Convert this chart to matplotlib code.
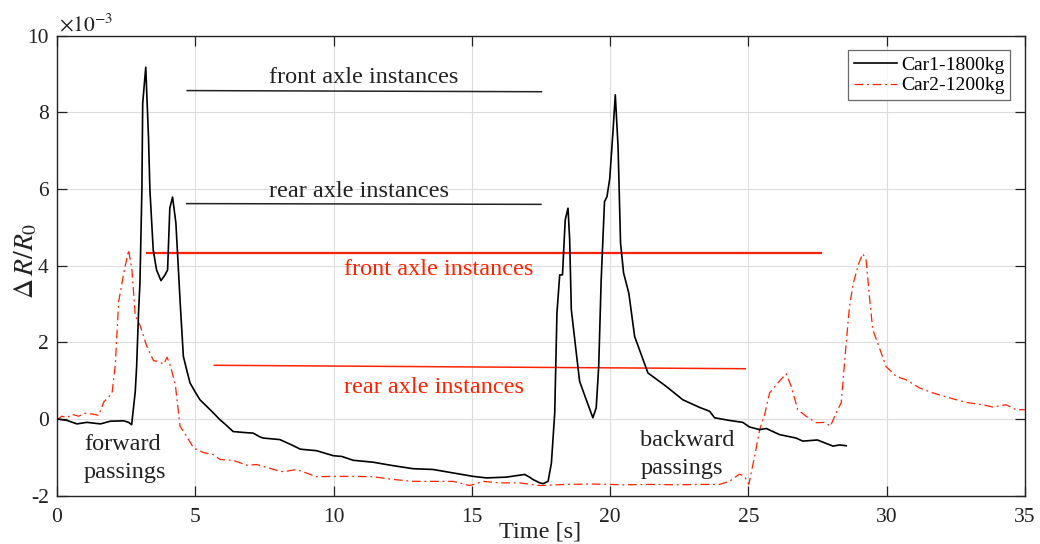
import matplotlib
matplotlib.use("Agg")
import matplotlib.pyplot as plt

plt.rcParams['font.family'] = ['Liberation Serif', 'DejaVu Serif']
plt.rcParams['mathtext.fontset'] = 'stix'

# Car1 (x10^-3)
car1_t = [0, 0.36, 0.72, 1.08, 1.57, 1.93, 2.41, 2.59, 2.70, 2.83, 2.88, 2.95, 3.0, 3.07, 3.10, 3.21,
          3.31, 3.36, 3.48, 3.60, 3.76, 3.90, 4.0, 4.08, 4.18, 4.30, 4.46, 4.57, 4.70, 4.81, 5.0, 5.17,
          5.41, 5.65, 5.89, 6.10, 6.37, 6.85, 7.09, 7.34, 7.46, 8.06, 8.43, 8.66, 8.80, 9.39, 9.99,
          10.3, 10.71, 11.43, 12.15, 12.88, 13.6, 14.32, 15.05, 15.53, 16.25, 16.91, 17.09, 17.21,
          17.46, 17.58, 17.76, 17.88, 18.0, 18.08, 18.18, 18.28, 18.38, 18.48, 18.54, 18.60, 18.78,
          18.90, 19.14, 19.38, 19.50, 19.59, 19.68, 19.80, 19.89, 19.99, 20.11, 20.19, 20.29, 20.38,
          20.49, 20.68, 20.89, 21.37, 22.03, 22.63, 23.24, 23.6, 23.78, 24.32, 24.80, 25.04, 25.41,
          25.65, 26.13, 26.73, 26.97, 27.5, 28.06, 28.3, 28.54]
car1_v = [0, -0.04, -0.13, -0.09, -0.13, -0.06, -0.05, -0.09, -0.15, 0.71, 1.37, 2.79, 3.55, 5.97, 8.24, 9.18,
          7.33, 5.98, 4.41, 3.89, 3.61, 3.75, 3.89, 5.50, 5.79, 5.11, 2.97, 1.63, 1.25, 0.94, 0.70, 0.50,
          0.33, 0.16, -0.02, -0.15, -0.33, -0.36, -0.37, -0.47, -0.50, -0.54, -0.66, -0.74, -0.79, -0.83, -0.96,
          -0.98, -1.08, -1.13, -1.22, -1.30, -1.32, -1.41, -1.50, -1.54, -1.52, -1.45, -1.52, -1.58,
          -1.67, -1.69, -1.63, -1.15, 0.16, 2.76, 3.76, 3.76, 5.20, 5.50, 4.68, 2.85, 1.72,
          0.98, 0.50, 0.03, 0.29, 1.37, 3.63, 5.67, 5.80, 6.28, 7.54, 8.46, 7.11, 4.59,
          3.81, 3.28, 2.15, 1.20, 0.85, 0.50, 0.30, 0.20, 0.03, -0.04, -0.09, -0.21, -0.28,
          -0.25, -0.41, -0.50, -0.58, -0.55, -0.71, -0.68, -0.70]

# Car2 (x10^-3)
car2_t = [0, 0.18, 0.36, 0.54, 0.78, 1.02, 1.33, 1.51, 1.69, 1.99, 2.11, 2.23, 2.41, 2.59, 2.71, 2.83,
          3.01, 3.25, 3.49, 3.66, 3.86, 3.98, 4.10, 4.28, 4.45, 4.70, 4.94, 5.30, 5.65, 5.90, 6.37,
          6.87, 7.22, 7.94, 8.19, 8.66, 9.39, 9.99, 10.71, 11.43, 12.15, 12.88, 13.6, 14.32, 14.93,
          15.41, 16.01, 16.73, 17.46, 18.4, 19.38, 20.5, 21.5, 22.5, 23.24, 23.96, 24.32, 24.68,
          24.86, 25.02, 25.23, 25.41, 25.59, 25.77, 26.07, 26.37, 26.55, 26.79, 27.09, 27.46, 27.76,
          27.97, 28.18, 28.36, 28.54, 28.66, 28.80, 29.0, 29.14, 29.26, 29.38, 29.50, 29.68, 29.98,
          30.35, 30.71, 31.19, 31.67, 32.27, 32.88, 33.48, 33.84, 34.32, 34.68, 35.0]
car2_v = [-0.02, 0.07, 0.03, 0.12, 0.07, 0.15, 0.12, 0.09, 0.44, 0.66, 1.43, 3.06, 3.79, 4.41, 3.88, 2.70,
          2.43, 1.89, 1.52, 1.50, 1.43, 1.61, 1.39, 0.89, -0.19, -0.47, -0.76, -0.88, -0.93, -1.06, -1.08,
          -1.21, -1.19, -1.34, -1.38, -1.32, -1.51, -1.50, -1.50, -1.51, -1.58, -1.63, -1.63, -1.63, -1.74,
          -1.63, -1.67, -1.67, -1.74, -1.71, -1.70, -1.72, -1.71, -1.72, -1.71, -1.71, -1.63, -1.44,
          -1.50, -1.71, -0.97, -0.28, 0.11, 0.68, 0.94, 1.18, 0.85, 0.24, 0.07, -0.10, -0.09,
          -0.19, 0.16, 0.42, 1.98, 2.94, 3.55, 4.07, 4.31, 4.15, 3.20, 2.33, 1.98, 1.37,
          1.11, 1.02, 0.81, 0.68, 0.55, 0.43, 0.37, 0.31, 0.37, 0.24, 0.24]

# annotation bars: ([x_start, x_end], [y_start, y_end])
black_front = ([4.71, 17.52], [8.57, 8.54])
black_rear = ([4.69, 17.50], [5.62, 5.60])
red_front = ([3.26, 27.64], [4.34, 4.34])
red_rear = ([5.69, 24.89], [1.40, 1.31])

labels = ["Car1-1800kg", "Car2-1200kg"]
xticks = [0, 5, 10, 15, 20, 25, 30, 35]
yticks = [-2, 0, 2, 4, 6, 8, 10]

RED = '#FF2200'
DARK = '#222222'

fig = plt.figure(figsize=(10.4, 5.44), dpi=100)
ax = fig.add_axes([0.0548, 0.0891, 0.9306, 0.8451])

ax.plot(car1_t, car1_v, color='black', lw=1.2, label=labels[0], zorder=3)
ax.plot(car2_t, car2_v, color=RED, lw=0.9, ls=(0, (7, 3, 1.5, 3)), label=labels[1], zorder=2)

ax.plot(*black_front, color=DARK, lw=1.1)
ax.plot(*black_rear, color=DARK, lw=1.1)
ax.plot(*red_front, color=RED, lw=1.6)
ax.plot(*red_rear, color=RED, lw=1.1)

fs_txt = 17.5
ax.text(11.09, 8.78, "front axle instances", ha='center', va='baseline', fontsize=fs_txt, color=DARK)
ax.text(10.92, 5.78, "rear axle instances", ha='center', va='baseline', fontsize=fs_txt, color=DARK)
ax.text(13.79, 3.76, "front axle instances", ha='center', va='baseline', fontsize=fs_txt, color=RED)
ax.text(13.63, 0.68, "rear axle instances", ha='center', va='baseline', fontsize=fs_txt, color=RED)
ax.text(0.98, -0.82, "forward", ha='left', va='baseline', fontsize=fs_txt, color=DARK)
ax.text(0.98, -1.55, "passings", ha='left', va='baseline', fontsize=fs_txt, color=DARK)
ax.text(21.10, -0.71, "backward", ha='left', va='baseline', fontsize=fs_txt, color=DARK)
ax.text(21.10, -1.43, "passings", ha='left', va='baseline', fontsize=fs_txt, color=DARK)

ax.set_xlim(0, 35)
ax.set_ylim(-2, 10)
ax.set_xticks(xticks)
ax.set_yticks(yticks)
ax.set_xticklabels([str(v) for v in xticks])
ax.set_yticklabels([str(v) for v in yticks])
ax.tick_params(direction='in', length=7, width=0.9, top=True, right=True,
               labelsize=15.5, pad=6, colors=DARK)
ax.tick_params(axis='x', pad=9)
ax.grid(True, color='#DDDDDD', lw=0.8)
ax.set_axisbelow(True)
for s in ax.spines.values():
    s.set_color(DARK)
    s.set_linewidth(1.0)

fig.text(26 / 1040, 1 - 261 / 544, r'$\Delta\,R/R_0$', rotation=90, ha='center', va='center',
         fontsize=20, color=DARK)
fig.text(0.519, 0.0226, 'Time [s]', ha='center', va='center', fontsize=17.5, color=DARK)
fig.text(0.0567, 1 - 31.7 / 544, r'$\times10^{-3}$', ha='left', va='baseline', fontsize=15.5, color=DARK)

leg = ax.legend(loc='upper right', fontsize=14, frameon=True, fancybox=False,
                edgecolor='#444444', borderaxespad=0.75, handlelength=2.2,
                handletextpad=0.2, borderpad=0.3, labelspacing=0.15)
leg.get_frame().set_linewidth(0.9)

fig.savefig('out.png', dpi=100)
